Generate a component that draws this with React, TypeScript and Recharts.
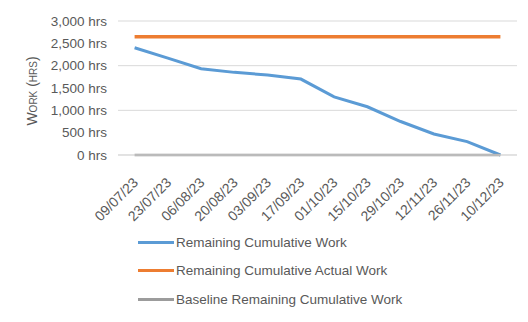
import React from 'react';
import { LineChart, Line, XAxis, YAxis, CartesianGrid, Legend } from 'recharts';

const dates = [
  '09/07/23', '23/07/23', '06/08/23', '20/08/23', '03/09/23', '17/09/23',
  '01/10/23', '15/10/23', '29/10/23', '12/11/23', '26/11/23', '10/12/23',
];
const remainingWork = [2400, 2170, 1930, 1850, 1790, 1700, 1300, 1080, 750, 470, 300, 0];
const remainingActualWork = [2650, 2650, 2650, 2650, 2650, 2650, 2650, 2650, 2650, 2650, 2650, 2650];
const baselineRemainingWork = [0, 0, 0, 0, 0, 0, 0, 0, 0, 0, 0, 0];
const yTicks = [0, 500, 1000, 1500, 2000, 2500, 3000];
const seriesNames = [
  'Remaining Cumulative Work',
  'Remaining Cumulative Actual Work',
  'Baseline Remaining Cumulative Work',
];

const data = dates.map((date, i) => ({
  date,
  remaining: remainingWork[i],
  actual: remainingActualWork[i],
  baseline: baselineRemainingWork[i],
}));

const TEXT = '#595959';
const FONT = '"Liberation Sans", Arial, sans-serif';

const DateTick = ({ x, y, payload }: any) => (
  <text
    transform={`translate(${x + 1},${y + 17}) rotate(-45)`}
    textAnchor="end"
    dy="0.35em"
    fill={TEXT}
    fontSize={14}
  >
    {payload.value}
  </text>
);

// legend stacked one series per row, kept in series order
const StackedLegend = ({ payload }: any) => {
  const items = [...(payload || [])].sort(
    (a: any, b: any) => seriesNames.indexOf(a.value) - seriesNames.indexOf(b.value),
  );
  return (
    <div style={{ fontSize: 13.5, color: TEXT }}>
      {items.map((entry: any) => (
        <div key={entry.value} style={{ height: 28.5, display: 'flex', alignItems: 'center' }}>
          <span style={{ width: 36, height: 3, background: entry.color, display: 'inline-block' }} />
          <span style={{ marginLeft: 2 }}>{entry.value}</span>
        </div>
      ))}
    </div>
  );
};

export default function App() {
  return (
    <div style={{ margin: -8, position: 'relative', width: 528, height: 322, background: '#fff', fontFamily: FONT, overflow: 'hidden' }}>
      <div style={{ position: 'absolute', left: 1, top: 4, width: 600, height: 400, border: '1px solid #d9d9d9' }} />
      <LineChart width={528} height={322} data={data} margin={{ top: 21, right: 11, left: 0, bottom: 21.5 }}>
        <CartesianGrid vertical={false} stroke="#d9d9d9" />
        <XAxis
          dataKey="date"
          interval={0}
          height={60}
          tickLine={false}
          axisLine={{ stroke: '#d9d9d9' }}
          padding={{ left: 16.6, right: 16.6 }}
          tick={<DateTick />}
        />
        <YAxis
          width={118}
          domain={[0, 3000]}
          ticks={yTicks}
          axisLine={false}
          tickLine={false}
          tickSize={0}
          tickMargin={11}
          tick={{ fill: TEXT, fontSize: 13.5 }}
          tickFormatter={(v: number) => `${v.toLocaleString('en-US')} hrs`}
          label={({ viewBox }: any) => (
            <text
              transform={`translate(${viewBox.x + 37},${viewBox.y + viewBox.height / 2 + 3}) rotate(-90)`}
              textAnchor="middle"
              fill={TEXT}
              fontSize={14}
              style={{ fontVariant: 'small-caps' }}
            >
              Work (hrs)
            </text>
          )}
        />
        <Legend
          verticalAlign="bottom"
          content={<StackedLegend />}
          wrapperStyle={{ top: 228, left: 138, width: 360 }}
        />
        <Line
          type="linear"
          dataKey="remaining"
          name={seriesNames[0]}
          stroke="#5B9BD5"
          strokeWidth={3}
          dot={false}
          isAnimationActive={false}
        />
        <Line
          type="linear"
          dataKey="actual"
          name={seriesNames[1]}
          stroke="#ED7D31"
          strokeWidth={3.5}
          dot={false}
          isAnimationActive={false}
        />
        <Line
          type="linear"
          dataKey="baseline"
          name={seriesNames[2]}
          stroke="#9C9C9C"
          strokeWidth={2.5}
          dot={false}
          isAnimationActive={false}
        />
      </LineChart>
    </div>
  );
}
